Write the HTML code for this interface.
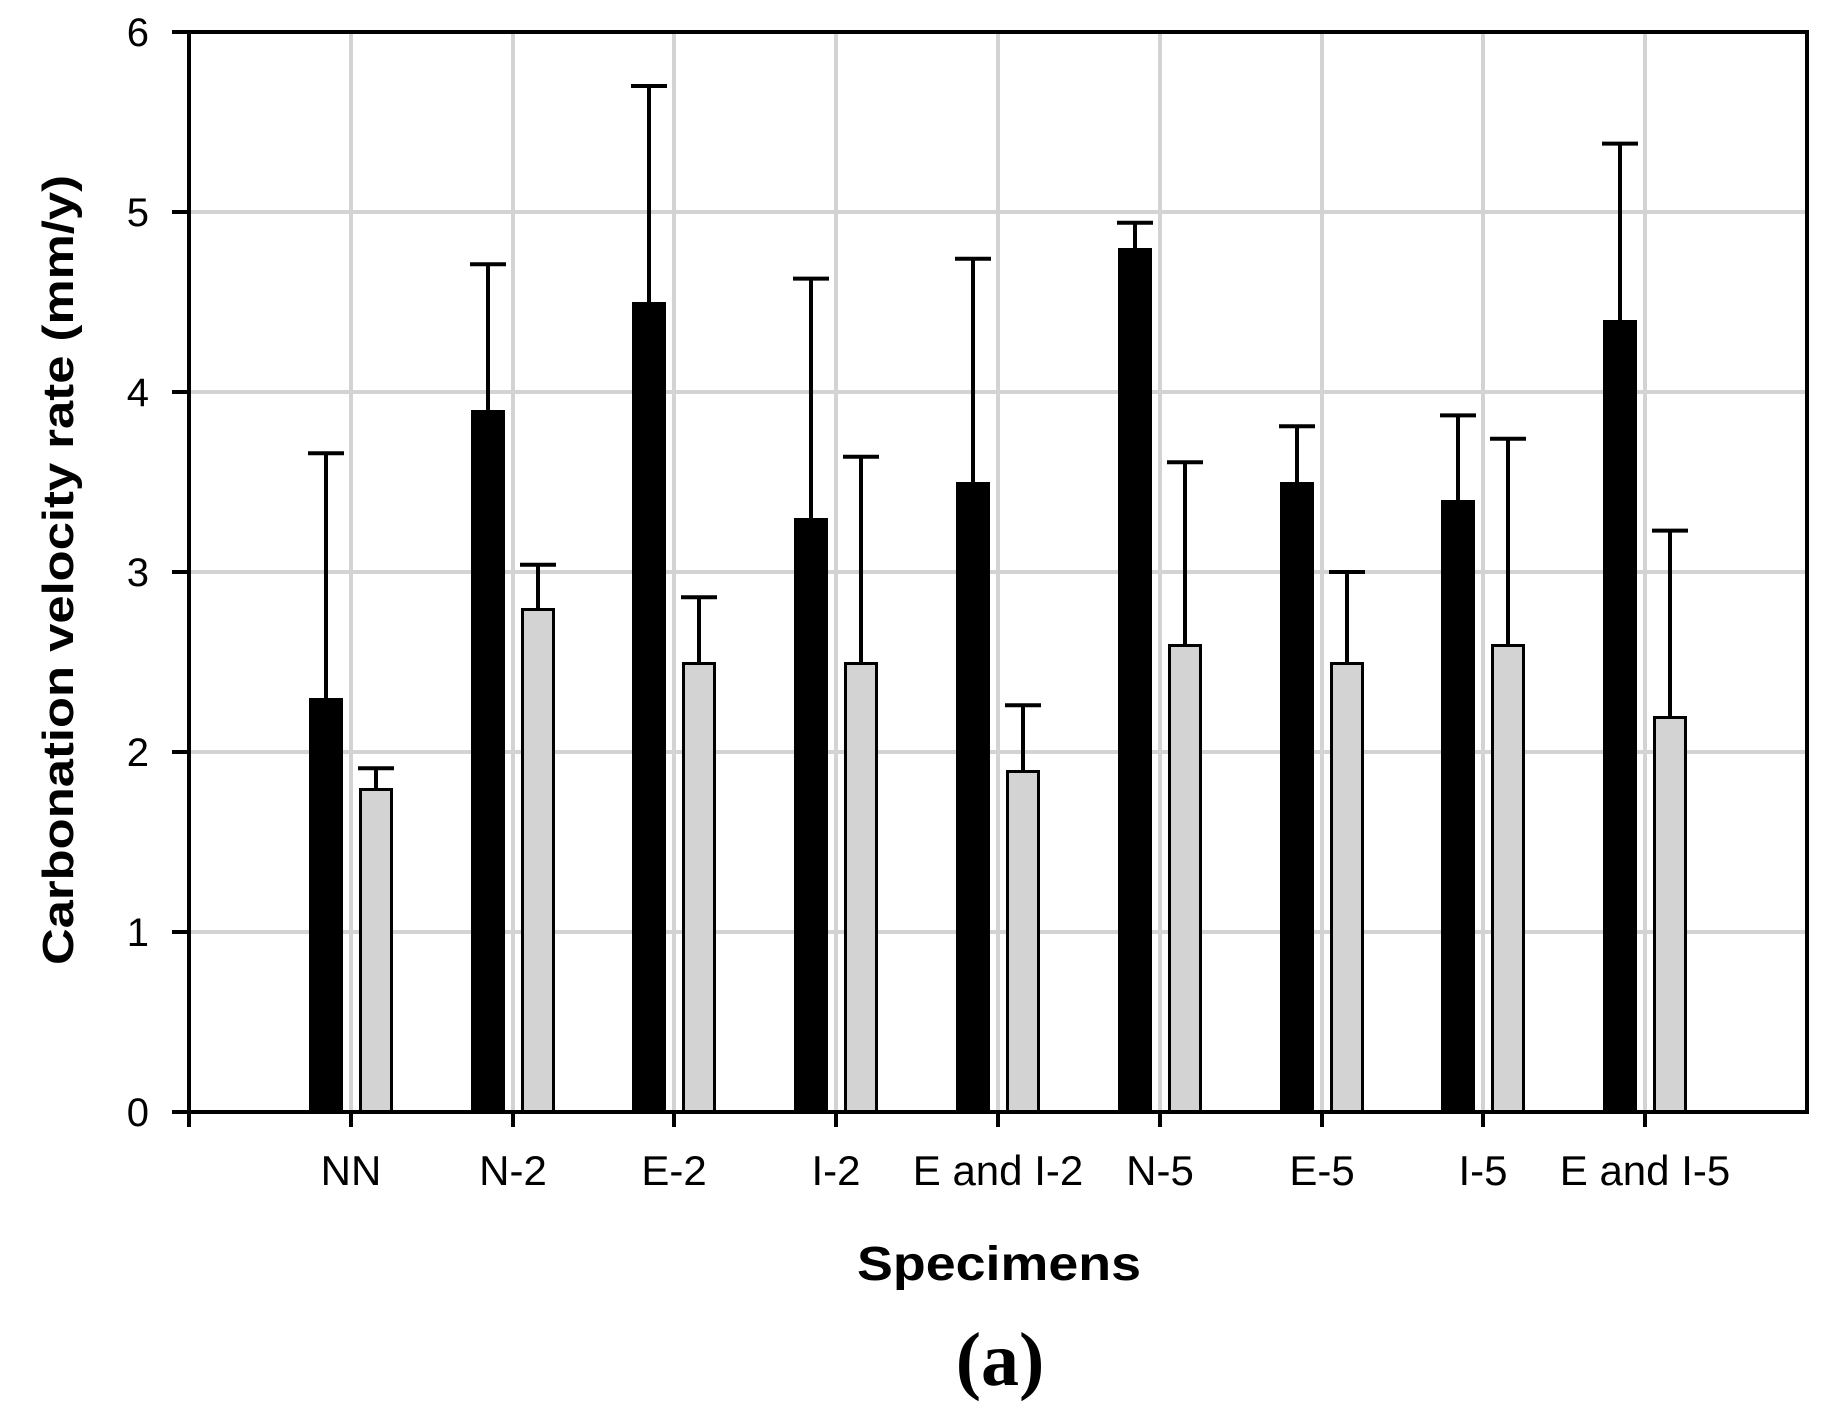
<!DOCTYPE html>
<html><head><meta charset="utf-8"><style>html,body{margin:0;padding:0;background:#fff}svg{display:block}</style></head>
<body>
<svg width="1841" height="1424" viewBox="0 0 1841 1424" xmlns="http://www.w3.org/2000/svg">
<rect width="1841" height="1424" fill="#fff"/>
<g stroke="#d3d3d3" stroke-width="4">
<line x1="189" y1="212" x2="1807" y2="212"/>
<line x1="189" y1="392" x2="1807" y2="392"/>
<line x1="189" y1="572" x2="1807" y2="572"/>
<line x1="189" y1="752" x2="1807" y2="752"/>
<line x1="189" y1="932" x2="1807" y2="932"/>
<line x1="351" y1="32" x2="351" y2="1112"/>
<line x1="513" y1="32" x2="513" y2="1112"/>
<line x1="674" y1="32" x2="674" y2="1112"/>
<line x1="836" y1="32" x2="836" y2="1112"/>
<line x1="998" y1="32" x2="998" y2="1112"/>
<line x1="1160" y1="32" x2="1160" y2="1112"/>
<line x1="1322" y1="32" x2="1322" y2="1112"/>
<line x1="1483" y1="32" x2="1483" y2="1112"/>
<line x1="1645" y1="32" x2="1645" y2="1112"/>
</g>
<g fill="#000">
<rect x="309" y="698" width="34" height="414"/>
<rect x="471" y="410" width="34" height="702"/>
<rect x="632" y="302" width="34" height="810"/>
<rect x="794" y="518" width="34" height="594"/>
<rect x="956" y="482" width="34" height="630"/>
<rect x="1118" y="248" width="34" height="864"/>
<rect x="1280" y="482" width="34" height="630"/>
<rect x="1441" y="500" width="34" height="612"/>
<rect x="1603" y="320" width="34" height="792"/>
</g>
<g fill="#d3d3d3" stroke="#000" stroke-width="3">
<rect x="360.5" y="789.5" width="31" height="322.5"/>
<rect x="522.5" y="609.5" width="31" height="502.5"/>
<rect x="683.5" y="663.5" width="31" height="448.5"/>
<rect x="845.5" y="663.5" width="31" height="448.5"/>
<rect x="1007.5" y="771.5" width="31" height="340.5"/>
<rect x="1169.5" y="645.5" width="31" height="466.5"/>
<rect x="1331.5" y="663.5" width="31" height="448.5"/>
<rect x="1492.5" y="645.5" width="31" height="466.5"/>
<rect x="1654.5" y="717.5" width="31" height="394.5"/>
</g>
<g stroke="#000" stroke-width="4" fill="none">
<path d="M326 698V453.2M308 453.2H344"/>
<path d="M488 410V264.2M470 264.2H506"/>
<path d="M649 302V86M631 86H667"/>
<path d="M811 518V278.6M793 278.6H829"/>
<path d="M973 482V258.8M955 258.8H991"/>
<path d="M1135 248V222.8M1117 222.8H1153"/>
<path d="M1297 482V426.2M1279 426.2H1315"/>
<path d="M1458 500V415.4M1440 415.4H1476"/>
<path d="M1620 320V143.6M1602 143.6H1638"/>
<path d="M376 788V768.2M358 768.2H394"/>
<path d="M538 608V564.8M520 564.8H556"/>
<path d="M699 662V597.2M681 597.2H717"/>
<path d="M861 662V456.8M843 456.8H879"/>
<path d="M1023 770V705.2M1005 705.2H1041"/>
<path d="M1185 644V462.2M1167 462.2H1203"/>
<path d="M1347 662V572M1329 572H1365"/>
<path d="M1508 644V438.8M1490 438.8H1526"/>
<path d="M1670 716V530.6M1652 530.6H1688"/>
</g>
<g stroke="#000" stroke-width="4" fill="none">
<rect x="189" y="32" width="1618" height="1080"/>
<line x1="172" y1="32" x2="189" y2="32"/><line x1="172" y1="212" x2="189" y2="212"/><line x1="172" y1="392" x2="189" y2="392"/><line x1="172" y1="572" x2="189" y2="572"/><line x1="172" y1="752" x2="189" y2="752"/><line x1="172" y1="932" x2="189" y2="932"/><line x1="172" y1="1112" x2="189" y2="1112"/>
<line x1="189" y1="1112" x2="189" y2="1127"/><line x1="351" y1="1112" x2="351" y2="1127"/><line x1="513" y1="1112" x2="513" y2="1127"/><line x1="674" y1="1112" x2="674" y2="1127"/><line x1="836" y1="1112" x2="836" y2="1127"/><line x1="998" y1="1112" x2="998" y2="1127"/><line x1="1160" y1="1112" x2="1160" y2="1127"/><line x1="1322" y1="1112" x2="1322" y2="1127"/><line x1="1483" y1="1112" x2="1483" y2="1127"/><line x1="1645" y1="1112" x2="1645" y2="1127"/>
</g>
<g font-family="Liberation Sans, Arial, sans-serif" font-size="40" text-anchor="end">
<text x="149" y="46">6</text><text x="149" y="226">5</text><text x="149" y="406">4</text><text x="149" y="586">3</text><text x="149" y="766">2</text><text x="149" y="946">1</text><text x="149" y="1126">0</text>
</g>
<g font-family="Liberation Sans, Arial, sans-serif" font-size="42" text-anchor="middle">
<text x="351" y="1185">NN</text><text x="513" y="1185">N-2</text><text x="674" y="1185">E-2</text><text x="836" y="1185">I-2</text><text x="998" y="1185">E and I-2</text><text x="1160" y="1185">N-5</text><text x="1322" y="1185">E-5</text><text x="1483" y="1185">I-5</text><text x="1645" y="1185">E and I-5</text>
</g>
<text x="999" y="1280" font-family="Liberation Sans, Arial, sans-serif" font-weight="bold" font-size="48" text-anchor="middle" textLength="284" lengthAdjust="spacingAndGlyphs">Specimens</text>
<text transform="translate(73,570) rotate(-90)" font-family="Liberation Sans, Arial, sans-serif" font-weight="bold" font-size="44" text-anchor="middle" textLength="790" lengthAdjust="spacingAndGlyphs">Carbonation velocity rate (mm/y)</text>
<text x="1000" y="1385" font-family="Liberation Serif, Times New Roman, serif" font-weight="bold" font-size="76" text-anchor="middle">(a)</text>
</svg>
</body></html>
